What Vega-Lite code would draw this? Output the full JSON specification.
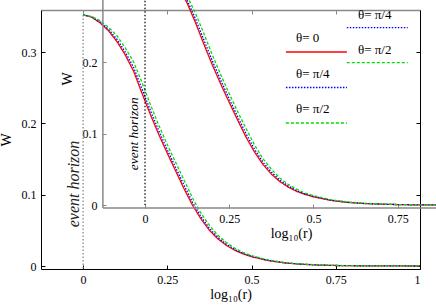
{
  "$schema": "https://vega.github.io/schema/vega-lite/v6.json",
  "width": 379,
  "height": 259,
  "autosize": {"type": "none"},
  "padding": {"left": 41, "top": 10, "right": 16, "bottom": 36},
  "background": "white",
  "config": {
    "view": {"stroke": null},
    "font": "Liberation Serif",
    "axis": {"grid": false, "labelFont": "Liberation Serif", "labelFontSize": 12, "labelColor": "#000", "titleFont": "Liberation Serif", "titleFontSize": 14, "titleFontWeight": "normal", "titleColor": "#000", "domainColor": "#000", "tickColor": "#000", "tickSize": -4, "labelPadding": 9, "labelExpr": "'' + datum.value"}
  },
  "datasets": {
    "legend": [{"theta": "θ= 0"}, {"theta": "θ= π/4"}, {"theta": "θ= π/2"}],
    "curves": [
      {"panel":"A","theta":"θ= 0","logr":0,"W":0.352},{"panel":"A","theta":"θ= 0","logr":0.025,"W":0.349},{"panel":"A","theta":"θ= 0","logr":0.05,"W":0.341},{"panel":"A","theta":"θ= 0","logr":0.075,"W":0.330},{"panel":"A","theta":"θ= 0","logr":0.1,"W":0.315},{"panel":"A","theta":"θ= 0","logr":0.125,"W":0.296},{"panel":"A","theta":"θ= 0","logr":0.15,"W":0.273},{"panel":"A","theta":"θ= 0","logr":0.175,"W":0.242},{"panel":"A","theta":"θ= 0","logr":0.2,"W":0.212},{"panel":"A","theta":"θ= 0","logr":0.225,"W":0.184},{"panel":"A","theta":"θ= 0","logr":0.25,"W":0.158},{"panel":"A","theta":"θ= 0","logr":0.275,"W":0.133},{"panel":"A","theta":"θ= 0","logr":0.3,"W":0.108},{"panel":"A","theta":"θ= 0","logr":0.325,"W":0.085},{"panel":"A","theta":"θ= 0","logr":0.35,"W":0.066},{"panel":"A","theta":"θ= 0","logr":0.375,"W":0.050},{"panel":"A","theta":"θ= 0","logr":0.4,"W":0.038},{"panel":"A","theta":"θ= 0","logr":0.425,"W":0.029},{"panel":"A","theta":"θ= 0","logr":0.45,"W":0.022},{"panel":"A","theta":"θ= 0","logr":0.475,"W":0.017},{"panel":"A","theta":"θ= 0","logr":0.5,"W":0.013},{"panel":"A","theta":"θ= 0","logr":0.55,"W":0.0075},{"panel":"A","theta":"θ= 0","logr":0.6,"W":0.0042},{"panel":"A","theta":"θ= 0","logr":0.65,"W":0.0024},{"panel":"A","theta":"θ= 0","logr":0.7,"W":0.0013},{"panel":"A","theta":"θ= 0","logr":0.75,"W":0.0007},{"panel":"A","theta":"θ= 0","logr":0.8,"W":0.0004},{"panel":"A","theta":"θ= 0","logr":0.9,"W":0.0001},{"panel":"A","theta":"θ= 0","logr":1.0,"W":0},
      {"panel":"A","theta":"θ= π/4","logr":0,"W":0.352},{"panel":"A","theta":"θ= π/4","logr":0.025,"W":0.3493},{"panel":"A","theta":"θ= π/4","logr":0.05,"W":0.3422},{"panel":"A","theta":"θ= π/4","logr":0.075,"W":0.332},{"panel":"A","theta":"θ= π/4","logr":0.1,"W":0.3182},{"panel":"A","theta":"θ= π/4","logr":0.125,"W":0.300},{"panel":"A","theta":"θ= π/4","logr":0.15,"W":0.2782},{"panel":"A","theta":"θ= π/4","logr":0.175,"W":0.248},{"panel":"A","theta":"θ= π/4","logr":0.2,"W":0.2176},{"panel":"A","theta":"θ= π/4","logr":0.225,"W":0.1892},{"panel":"A","theta":"θ= π/4","logr":0.25,"W":0.1628},{"panel":"A","theta":"θ= π/4","logr":0.275,"W":0.1378},{"panel":"A","theta":"θ= π/4","logr":0.3,"W":0.1128},{"panel":"A","theta":"θ= π/4","logr":0.325,"W":0.089},{"panel":"A","theta":"θ= π/4","logr":0.35,"W":0.0692},{"panel":"A","theta":"θ= π/4","logr":0.375,"W":0.0528},{"panel":"A","theta":"θ= π/4","logr":0.4,"W":0.040},{"panel":"A","theta":"θ= π/4","logr":0.425,"W":0.0306},{"panel":"A","theta":"θ= π/4","logr":0.45,"W":0.0232},{"panel":"A","theta":"θ= π/4","logr":0.475,"W":0.0178},{"panel":"A","theta":"θ= π/4","logr":0.5,"W":0.0137},{"panel":"A","theta":"θ= π/4","logr":0.55,"W":0.0079},{"panel":"A","theta":"θ= π/4","logr":0.6,"W":0.0044},{"panel":"A","theta":"θ= π/4","logr":0.65,"W":0.0025},{"panel":"A","theta":"θ= π/4","logr":0.7,"W":0.0014},{"panel":"A","theta":"θ= π/4","logr":0.75,"W":0.0007},{"panel":"A","theta":"θ= π/4","logr":0.8,"W":0.0004},{"panel":"A","theta":"θ= π/4","logr":0.9,"W":0.0001},{"panel":"A","theta":"θ= π/4","logr":1.0,"W":0},
      {"panel":"A","theta":"θ= π/2","logr":0,"W":0.352},{"panel":"A","theta":"θ= π/2","logr":0.025,"W":0.3498},{"panel":"A","theta":"θ= π/2","logr":0.05,"W":0.344},{"panel":"A","theta":"θ= π/2","logr":0.075,"W":0.335},{"panel":"A","theta":"θ= π/2","logr":0.1,"W":0.323},{"panel":"A","theta":"θ= π/2","logr":0.125,"W":0.306},{"panel":"A","theta":"θ= π/2","logr":0.15,"W":0.286},{"panel":"A","theta":"θ= π/2","logr":0.175,"W":0.257},{"panel":"A","theta":"θ= π/2","logr":0.2,"W":0.226},{"panel":"A","theta":"θ= π/2","logr":0.225,"W":0.197},{"panel":"A","theta":"θ= π/2","logr":0.25,"W":0.170},{"panel":"A","theta":"θ= π/2","logr":0.275,"W":0.145},{"panel":"A","theta":"θ= π/2","logr":0.3,"W":0.120},{"panel":"A","theta":"θ= π/2","logr":0.325,"W":0.095},{"panel":"A","theta":"θ= π/2","logr":0.35,"W":0.074},{"panel":"A","theta":"θ= π/2","logr":0.375,"W":0.057},{"panel":"A","theta":"θ= π/2","logr":0.4,"W":0.043},{"panel":"A","theta":"θ= π/2","logr":0.425,"W":0.033},{"panel":"A","theta":"θ= π/2","logr":0.45,"W":0.025},{"panel":"A","theta":"θ= π/2","logr":0.475,"W":0.019},{"panel":"A","theta":"θ= π/2","logr":0.5,"W":0.0147},{"panel":"A","theta":"θ= π/2","logr":0.55,"W":0.0086},{"panel":"A","theta":"θ= π/2","logr":0.6,"W":0.0048},{"panel":"A","theta":"θ= π/2","logr":0.65,"W":0.0027},{"panel":"A","theta":"θ= π/2","logr":0.7,"W":0.0015},{"panel":"A","theta":"θ= π/2","logr":0.75,"W":0.0008},{"panel":"A","theta":"θ= π/2","logr":0.8,"W":0.0004},{"panel":"A","theta":"θ= π/2","logr":0.9,"W":0.0001},{"panel":"A","theta":"θ= π/2","logr":1.0,"W":0},
      {"panel":"B","theta":"θ= 0","logr":0,"W":0.3503},{"panel":"B","theta":"θ= 0","logr":0.025,"W":0.3445},{"panel":"B","theta":"θ= 0","logr":0.05,"W":0.3348},{"panel":"B","theta":"θ= 0","logr":0.075,"W":0.3216},{"panel":"B","theta":"θ= 0","logr":0.1,"W":0.3044},{"panel":"B","theta":"θ= 0","logr":0.125,"W":0.2831},{"panel":"B","theta":"θ= 0","logr":0.15,"W":0.2556},{"panel":"B","theta":"θ= 0","logr":0.175,"W":0.2252},{"panel":"B","theta":"θ= 0","logr":0.2,"W":0.1963},{"panel":"B","theta":"θ= 0","logr":0.225,"W":0.1694},{"panel":"B","theta":"θ= 0","logr":0.25,"W":0.144},{"panel":"B","theta":"θ= 0","logr":0.275,"W":0.119},{"panel":"B","theta":"θ= 0","logr":0.3,"W":0.0951},{"panel":"B","theta":"θ= 0","logr":0.325,"W":0.0744},{"panel":"B","theta":"θ= 0","logr":0.35,"W":0.057},{"panel":"B","theta":"θ= 0","logr":0.375,"W":0.0433},{"panel":"B","theta":"θ= 0","logr":0.4,"W":0.033},{"panel":"B","theta":"θ= 0","logr":0.425,"W":0.0251},{"panel":"B","theta":"θ= 0","logr":0.45,"W":0.0192},{"panel":"B","theta":"θ= 0","logr":0.475,"W":0.0148},{"panel":"B","theta":"θ= 0","logr":0.5,"W":0.0115},{"panel":"B","theta":"θ= 0","logr":0.55,"W":0.0066},{"panel":"B","theta":"θ= 0","logr":0.6,"W":0.0037},{"panel":"B","theta":"θ= 0","logr":0.65,"W":0.0021},{"panel":"B","theta":"θ= 0","logr":0.7,"W":0.0012},{"panel":"B","theta":"θ= 0","logr":0.75,"W":0.0006},{"panel":"B","theta":"θ= 0","logr":0.8,"W":0.0003},{"panel":"B","theta":"θ= 0","logr":0.9,"W":0.0001},{"panel":"B","theta":"θ= 0","logr":1.0,"W":0},
      {"panel":"B","theta":"θ= π/4","logr":0,"W":0.3503},{"panel":"B","theta":"θ= π/4","logr":0.025,"W":0.3448},{"panel":"B","theta":"θ= π/4","logr":0.05,"W":0.336},{"panel":"B","theta":"θ= π/4","logr":0.075,"W":0.3236},{"panel":"B","theta":"θ= π/4","logr":0.1,"W":0.3076},{"panel":"B","theta":"θ= π/4","logr":0.125,"W":0.2871},{"panel":"B","theta":"θ= π/4","logr":0.15,"W":0.2608},{"panel":"B","theta":"θ= π/4","logr":0.175,"W":0.2312},{"panel":"B","theta":"θ= π/4","logr":0.2,"W":0.2019},{"panel":"B","theta":"θ= π/4","logr":0.225,"W":0.1746},{"panel":"B","theta":"θ= π/4","logr":0.25,"W":0.1488},{"panel":"B","theta":"θ= π/4","logr":0.275,"W":0.1238},{"panel":"B","theta":"θ= π/4","logr":0.3,"W":0.0999},{"panel":"B","theta":"θ= π/4","logr":0.325,"W":0.0784},{"panel":"B","theta":"θ= π/4","logr":0.35,"W":0.0602},{"panel":"B","theta":"θ= π/4","logr":0.375,"W":0.0461},{"panel":"B","theta":"θ= π/4","logr":0.4,"W":0.035},{"panel":"B","theta":"θ= π/4","logr":0.425,"W":0.0267},{"panel":"B","theta":"θ= π/4","logr":0.45,"W":0.0204},{"panel":"B","theta":"θ= π/4","logr":0.475,"W":0.0156},{"panel":"B","theta":"θ= π/4","logr":0.5,"W":0.0122},{"panel":"B","theta":"θ= π/4","logr":0.55,"W":0.007},{"panel":"B","theta":"θ= π/4","logr":0.6,"W":0.0039},{"panel":"B","theta":"θ= π/4","logr":0.65,"W":0.0022},{"panel":"B","theta":"θ= π/4","logr":0.7,"W":0.0013},{"panel":"B","theta":"θ= π/4","logr":0.75,"W":0.0006},{"panel":"B","theta":"θ= π/4","logr":0.8,"W":0.0003},{"panel":"B","theta":"θ= π/4","logr":0.9,"W":0.0001},{"panel":"B","theta":"θ= π/4","logr":1.0,"W":0},
      {"panel":"B","theta":"θ= π/2","logr":0,"W":0.3503},{"panel":"B","theta":"θ= π/2","logr":0.025,"W":0.3453},{"panel":"B","theta":"θ= π/2","logr":0.05,"W":0.3378},{"panel":"B","theta":"θ= π/2","logr":0.075,"W":0.3266},{"panel":"B","theta":"θ= π/2","logr":0.1,"W":0.3124},{"panel":"B","theta":"θ= π/2","logr":0.125,"W":0.2931},{"panel":"B","theta":"θ= π/2","logr":0.15,"W":0.2686},{"panel":"B","theta":"θ= π/2","logr":0.175,"W":0.2402},{"panel":"B","theta":"θ= π/2","logr":0.2,"W":0.2103},{"panel":"B","theta":"θ= π/2","logr":0.225,"W":0.1824},{"panel":"B","theta":"θ= π/2","logr":0.25,"W":0.156},{"panel":"B","theta":"θ= π/2","logr":0.275,"W":0.131},{"panel":"B","theta":"θ= π/2","logr":0.3,"W":0.1071},{"panel":"B","theta":"θ= π/2","logr":0.325,"W":0.0844},{"panel":"B","theta":"θ= π/2","logr":0.35,"W":0.065},{"panel":"B","theta":"θ= π/2","logr":0.375,"W":0.0503},{"panel":"B","theta":"θ= π/2","logr":0.4,"W":0.038},{"panel":"B","theta":"θ= π/2","logr":0.425,"W":0.0291},{"panel":"B","theta":"θ= π/2","logr":0.45,"W":0.0222},{"panel":"B","theta":"θ= π/2","logr":0.475,"W":0.0168},{"panel":"B","theta":"θ= π/2","logr":0.5,"W":0.0132},{"panel":"B","theta":"θ= π/2","logr":0.55,"W":0.0077},{"panel":"B","theta":"θ= π/2","logr":0.6,"W":0.0043},{"panel":"B","theta":"θ= π/2","logr":0.65,"W":0.0024},{"panel":"B","theta":"θ= π/2","logr":0.7,"W":0.0014},{"panel":"B","theta":"θ= π/2","logr":0.75,"W":0.0007},{"panel":"B","theta":"θ= π/2","logr":0.8,"W":0.0003},{"panel":"B","theta":"θ= π/2","logr":0.9,"W":0.0001},{"panel":"B","theta":"θ= π/2","logr":1.0,"W":0}
    ]
  },
  "layer": [
    {
      "data": {"name": "curves"},
      "transform": [{"filter": "datum.panel === 'A'"}],
      "mark": {"type": "line", "strokeWidth": 1.3, "clip": true},
      "encoding": {
        "x": {"field": "logr", "type": "quantitative", "scale": {"domain": [-0.125, 1.0], "nice": false, "zero": false},
              "axis": {"orient": "bottom", "values": [0, 0.25, 0.5, 0.75, 1], "title": "log₁₀(r)", "titlePadding": 2}},
        "y": {"field": "W", "type": "quantitative", "scale": {"domain": [-0.0042, 0.3589], "nice": false, "zero": false},
              "axis": {"orient": "left", "values": [0, 0.1, 0.2, 0.3], "title": "W", "titlePadding": 8}},
        "color": {"field": "theta", "type": "nominal", "scale": {"domain": ["θ= 0", "θ= π/4", "θ= π/2"], "range": ["#ff0000", "#0000ff", "#00dd00"]}, "legend": null},
        "strokeDash": {"field": "theta", "type": "nominal", "scale": {"domain": ["θ= 0", "θ= π/4", "θ= π/2"], "range": [[1, 0], [1.5, 1.5], [3, 2]]}, "legend": null}
      }
    },
    {
      "data": {"name": "curves"},
      "transform": [{"filter": "datum.panel === 'A'"}],
      "mark": {"type": "point", "opacity": 0},
      "encoding": {
        "x": {"field": "logr", "type": "quantitative", "scale": {"domain": [-0.125, 1.0], "nice": false, "zero": false},
              "axis": {"orient": "top", "values": [0, 0.25, 0.5, 0.75, 1], "labels": false, "title": null, "domainColor": "#888", "domainWidth": 1.5, "tickColor": "#888"}},
        "y": {"field": "W", "type": "quantitative", "scale": {"domain": [-0.0042, 0.3589], "nice": false, "zero": false},
              "axis": {"orient": "right", "values": [0, 0.1, 0.2, 0.3], "labels": false, "title": null}}
      }
    },
    {
      "data": {"values": [{"label": "event horizon"}]},
      "mark": {"type": "rule", "color": "#888", "strokeWidth": 1.3, "strokeDash": [1.5, 2]},
      "encoding": {
        "x": {"datum": 0, "type": "quantitative", "scale": {"domain": [-0.125, 1.0], "nice": false, "zero": false}, "axis": null},
        "y": {"datum": 0.352, "type": "quantitative", "scale": {"domain": [-0.0042, 0.3589], "nice": false, "zero": false}, "axis": null},
        "y2": {"datum": -0.0042}
      }
    },
    {
      "data": {"values": [{"label": "event horizon"}]},
      "mark": {"type": "text", "angle": 270, "align": "center", "baseline": "middle", "fontStyle": "italic", "fontWeight": "normal", "fontSize": 16, "font": "Liberation Serif", "color": "#222"},
      "encoding": {
        "x": {"datum": -0.027, "type": "quantitative", "scale": {"domain": [-0.125, 1.0], "nice": false, "zero": false}, "axis": null},
        "y": {"datum": 0.115, "type": "quantitative", "scale": {"domain": [-0.0042, 0.3589], "nice": false, "zero": false}, "axis": null},
        "text": {"field": "label"}
      }
    },
    {
      "data": {"name": "legend"},
      "mark": {"type": "rule", "strokeWidth": 1.3},
      "encoding": {
        "x": {"datum": 0.602, "type": "quantitative", "scale": {"domain": [-0.125, 1.0], "nice": false, "zero": false}, "axis": null},
        "x2": {"datum": 0.783},
        "y": {"field": "theta", "type": "nominal", "scale": {"type": "point", "domain": ["θ= 0", "θ= π/4", "θ= π/2"], "range": [42, 113], "padding": 0}, "axis": null},
        "color": {"field": "theta", "type": "nominal", "legend": null},
        "strokeDash": {"field": "theta", "type": "nominal", "legend": null}
      }
    },
    {
      "data": {"name": "legend"},
      "mark": {"type": "text", "align": "left", "baseline": "middle", "dy": -14, "fontSize": 13, "font": "Liberation Serif", "color": "#000"},
      "encoding": {
        "x": {"datum": 0.632, "type": "quantitative", "scale": {"domain": [-0.125, 1.0], "nice": false, "zero": false}, "axis": null},
        "y": {"field": "theta", "type": "nominal", "scale": {"type": "point", "domain": ["θ= 0", "θ= π/4", "θ= π/2"], "range": [42, 113], "padding": 0}, "axis": null},
        "text": {"field": "theta"}
      }
    },
    {
      "data": {"name": "curves"},
      "transform": [{"filter": "datum.panel === 'B'"}],
      "mark": {"type": "line", "strokeWidth": 1.3, "clip": false},
      "encoding": {
        "x": {"field": "logr", "type": "quantitative", "scale": {"domain": [-0.3087, 0.8163], "nice": false, "zero": false},
              "axis": {"orient": "bottom", "offset": -61, "domain": false, "tickColor": "#888", "values": [0, 0.25, 0.5, 0.75], "title": "log₁₀(r)", "titlePadding": 2, "titleX": 250}},
        "y": {"field": "W", "type": "quantitative", "scale": {"domain": [-0.0897, 0.2734], "nice": false, "zero": false},
              "axis": {"orient": "left", "offset": -61, "domain": false, "tickColor": "#888", "values": [0, 0.1, 0.2], "title": "W", "titlePadding": 8, "titleY": 68.5}},
        "color": {"field": "theta", "type": "nominal", "legend": null},
        "strokeDash": {"field": "theta", "type": "nominal", "legend": null}
      }
    },
    {
      "data": {"values": [{"label": "frame"}]},
      "mark": {"type": "rule", "color": "#888", "strokeWidth": 1.5},
      "encoding": {
        "x": {"datum": -0.125, "type": "quantitative", "scale": {"domain": [-0.3087, 0.8163], "nice": false, "zero": false}, "axis": null},
        "y": {"datum": -0.0042, "type": "quantitative", "scale": {"domain": [-0.0897, 0.2734], "nice": false, "zero": false}, "axis": null},
        "y2": {"datum": 0.36}
      }
    },
    {
      "data": {"values": [{"label": "frame"}]},
      "mark": {"type": "rule", "color": "#888", "strokeWidth": 1.5},
      "encoding": {
        "x": {"datum": -0.125, "type": "quantitative", "scale": {"domain": [-0.3087, 0.8163], "nice": false, "zero": false}, "axis": null},
        "x2": {"datum": 1.0},
        "y": {"datum": -0.0042, "type": "quantitative", "scale": {"domain": [-0.0897, 0.2734], "nice": false, "zero": false}, "axis": null}
      }
    },
    {
      "data": {"values": [{"label": "event horizon"}]},
      "mark": {"type": "rule", "color": "#000", "strokeWidth": 1.2, "strokeDash": [1.5, 2]},
      "encoding": {
        "x": {"datum": 0, "type": "quantitative", "scale": {"domain": [-0.3087, 0.8163], "nice": false, "zero": false}, "axis": null},
        "y": {"datum": 0.36, "type": "quantitative", "scale": {"domain": [-0.0897, 0.2734], "nice": false, "zero": false}, "axis": null},
        "y2": {"datum": 0}
      }
    },
    {
      "data": {"values": [{"label": "event horizon"}]},
      "mark": {"type": "text", "angle": 270, "align": "center", "baseline": "middle", "fontStyle": "italic", "fontWeight": "normal", "fontSize": 13.5, "font": "Liberation Serif", "color": "#000"},
      "encoding": {
        "x": {"datum": -0.033, "type": "quantitative", "scale": {"domain": [-0.3087, 0.8163], "nice": false, "zero": false}, "axis": null},
        "y": {"datum": 0.1, "type": "quantitative", "scale": {"domain": [-0.0897, 0.2734], "nice": false, "zero": false}, "axis": null},
        "text": {"field": "label"}
      }
    },
    {
      "data": {"name": "legend"},
      "mark": {"type": "rule", "strokeWidth": 1.3},
      "encoding": {
        "x": {"datum": 0.599, "type": "quantitative", "scale": {"domain": [-0.3087, 0.8163], "nice": false, "zero": false}, "axis": null},
        "x2": {"datum": 0.78},
        "y": {"field": "theta", "type": "nominal", "scale": {"type": "point", "domain": ["θ= 0", "θ= π/4", "θ= π/2"], "range": [-17.3, 52.7], "padding": 0}, "axis": null},
        "color": {"field": "theta", "type": "nominal", "legend": null},
        "strokeDash": {"field": "theta", "type": "nominal", "legend": null}
      }
    },
    {
      "data": {"name": "legend"},
      "mark": {"type": "text", "align": "left", "baseline": "middle", "dy": -12.5, "fontSize": 13, "font": "Liberation Serif", "color": "#000"},
      "encoding": {
        "x": {"datum": 0.632, "type": "quantitative", "scale": {"domain": [-0.3087, 0.8163], "nice": false, "zero": false}, "axis": null},
        "y": {"field": "theta", "type": "nominal", "scale": {"type": "point", "domain": ["θ= 0", "θ= π/4", "θ= π/2"], "range": [-17.3, 52.7], "padding": 0}, "axis": null},
        "text": {"field": "theta"}
      }
    }
  ],
  "resolve": {"scale": {"x": "independent", "y": "independent"}}
}
